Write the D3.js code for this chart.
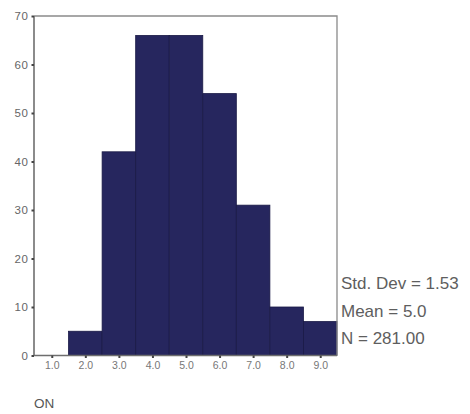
<!DOCTYPE html>
<html>
<head>
<meta charset="utf-8">
<script src="https://cdn.jsdelivr.net/npm/d3@7"></script>
<style>
  html, body { margin: 0; padding: 0; background: #fff; }
  svg { display: block; }
  text { font-family: "Liberation Sans", Arial, sans-serif; }
</style>
</head>
<body>
<svg id="chart" width="470" height="414"></svg>
<script>
// Histogram bins (lower edge, upper edge) and counts
const binStarts = [0.5, 1.5, 2.5, 3.5, 4.5, 5.5, 6.5, 7.5, 8.5];
const binEnds   = [1.5, 2.5, 3.5, 4.5, 5.5, 6.5, 7.5, 8.5, 9.5];
const counts    = [0, 5, 42, 66, 66, 54, 31, 10, 7];
const xTicks = [1, 2, 3, 4, 5, 6, 7, 8, 9];
const yTicks = [0, 10, 20, 30, 40, 50, 60, 70];
const statsLines = ["Std. Dev = 1.53", "Mean = 5.0", "N = 281.00"];
const axisTitle = "ON";

const svg = d3.select("#chart");
const plotLeft = 35, plotRight = 337, plotTop = 16, plotBottom = 355.5;

const x = d3.scaleLinear().domain([0.5, 9.5]).range([plotLeft, plotRight]);
const y = d3.scaleLinear().domain([0, 70]).range([plotBottom, plotTop]);

const bins = binStarts.map((s, i) => ({ x0: s, x1: binEnds[i], n: counts[i] }));

// Bars
svg.append("g").selectAll("rect")
  .data(bins.filter(d => d.n > 0))
  .join("rect")
  .attr("x", d => x(d.x0))
  .attr("y", d => y(d.n))
  .attr("width", d => x(d.x1) - x(d.x0))
  .attr("height", d => y(0) - y(d.n))
  .attr("fill", "#26265e")
  .attr("stroke", "#1a1a46")
  .attr("stroke-width", 0.8);

// Frame: top and right edges
svg.append("path")
  .attr("d", `M${plotLeft - 1},${plotTop}H${plotRight}V${plotBottom}`)
  .attr("fill", "none")
  .attr("stroke", "#8a8a8a")
  .attr("stroke-width", 1.3);

// Y axis
const yAxis = d3.axisLeft(y).tickValues(yTicks).tickSize(2.5).tickPadding(3).tickFormat(d3.format("d"));
const gy = svg.append("g").attr("transform", `translate(${plotLeft - 1},0)`).call(yAxis);
gy.select(".domain").attr("stroke", "#6e6e6e").attr("stroke-width", 1.6).attr("d", `M0,${plotBottom}V${plotTop}`);
gy.selectAll(".tick line").attr("stroke", "#444").attr("stroke-width", 2);
gy.selectAll(".tick text").attr("fill", "#666").style("font-size", "11.5px").style("letter-spacing", "0.6px");

// X axis
const xAxis = d3.axisBottom(x).tickValues(xTicks).tickSize(2.5).tickPadding(4).tickFormat(d3.format(".1f"));
const gx = svg.append("g").attr("transform", `translate(0,${plotBottom})`).call(xAxis);
gx.select(".domain").attr("stroke", "#6e6e6e").attr("stroke-width", 1.6).attr("d", `M${plotLeft - 1},0H${plotRight}`);
gx.selectAll(".tick line").attr("stroke", "#444").attr("stroke-width", 2);
gx.selectAll(".tick text").attr("fill", "#777").style("font-size", "10.5px");

// Summary statistics
svg.append("g").selectAll("text")
  .data(statsLines)
  .join("text")
  .attr("x", 341)
  .attr("y", (d, i) => 289 + i * 27.5)
  .attr("fill", "#5e5e5e")
  .style("font-size", "17px")
  .text(d => d);

// Variable name
svg.append("text")
  .attr("x", 34)
  .attr("y", 407.5)
  .attr("fill", "#555")
  .style("font-size", "13.5px")
  .text(axisTitle);
</script>
</body>
</html>
